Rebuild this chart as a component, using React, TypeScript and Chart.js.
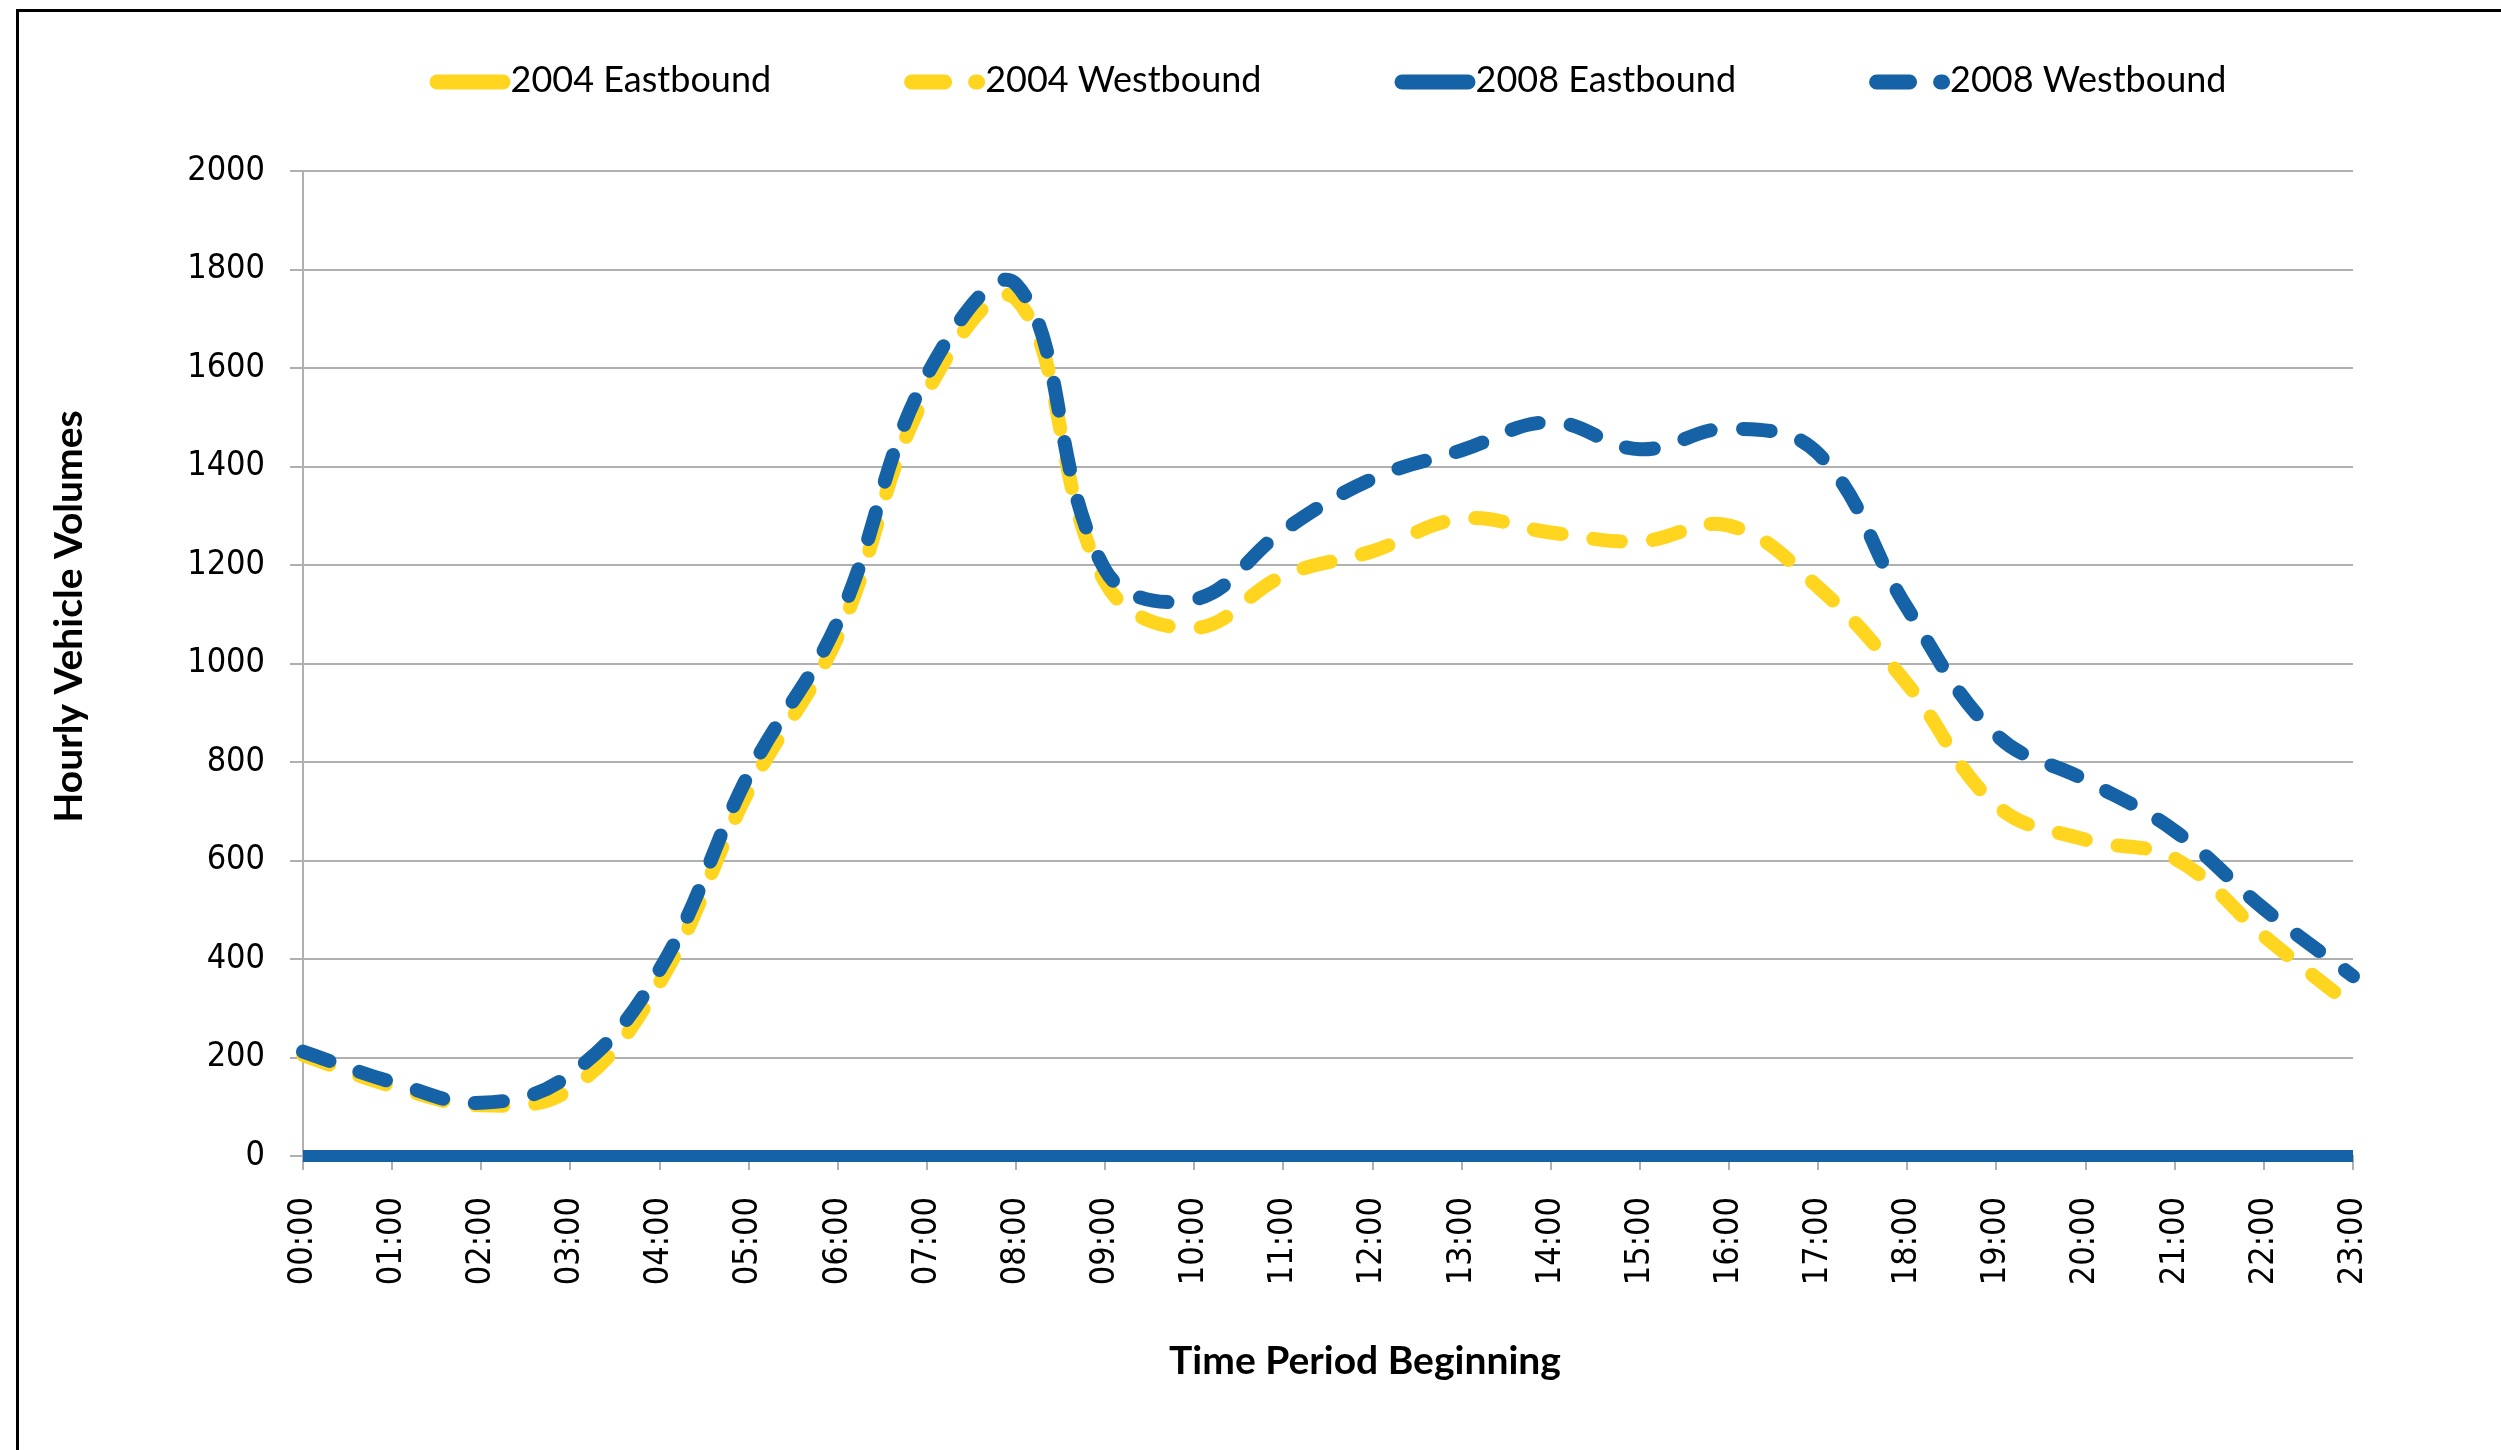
import React, { useEffect, useRef } from "react";
import { Chart, registerables } from "chart.js";

Chart.register(...registerables);

const hours = [
  "00:00", "01:00", "02:00", "03:00", "04:00", "05:00", "06:00", "07:00",
  "08:00", "09:00", "10:00", "11:00", "12:00", "13:00", "14:00", "15:00",
  "16:00", "17:00", "18:00", "19:00", "20:00", "21:00", "22:00", "23:00",
];

const seriesNames = ["2004 Eastbound", "2004 Westbound", "2008 Eastbound", "2008 Westbound"];

const eastbound2004 = [0, 0, 0, 0, 0, 0, 0, 0, 0, 0, 0, 0, 0, 0, 0, 0, 0, 0, 0, 0, 0, 0, 0, 0];
const westbound2004 = [205, 142, 103, 136, 352, 742, 1055, 1550, 1740, 1165, 1072, 1178, 1228, 1294, 1266, 1248, 1280, 1155, 958, 712, 642, 604, 447, 303];
const eastbound2008 = [0, 0, 0, 0, 0, 0, 0, 0, 0, 0, 0, 0, 0, 0, 0, 0, 0, 0, 0, 0, 0, 0, 0, 0];
const westbound2008 = [212, 150, 108, 166, 378, 775, 1085, 1585, 1770, 1190, 1130, 1270, 1375, 1433, 1490, 1435, 1477, 1426, 1112, 855, 763, 660, 502, 365];

const yTickLabels = ["0", "200", "400", "600", "800", "1000", "1200", "1400", "1600", "1800", "2000"];

const xTitle = "Time Period Beginning";
const yTitle = "Hourly Vehicle Volumes";

const YELLOW = "#FFD520";
const BLUE = "#1563A6";
const GRID = "#b0b0b0";
const TICK_FONT = "'DejaVu Sans Condensed', 'DejaVu Sans', sans-serif";
const TEXT_FONT = "Lato, 'Open Sans', sans-serif";

const overlayPlugin = {
  id: "overlay",
  afterDraw(chart: any) {
    const ctx = chart.ctx as CanvasRenderingContext2D;
    const area = chart.chartArea;
    ctx.save();
    // legend
    ctx.font = `36px ${TEXT_FONT}`;
    ctx.textBaseline = "middle";
    ctx.textAlign = "left";
    const datasets = chart.data.datasets;
    const widths = datasets.map((d: any) => ctx.measureText(d.label).width);
    const sampleW = 81;
    const gap = 133;
    const total = widths.reduce((a: number, b: number) => a + b, 0) + sampleW * datasets.length + gap * (datasets.length - 1);
    let x = (area.left + area.right) / 2 - total / 2;
    const ly = 82;
    datasets.forEach((d: any, i: number) => {
      ctx.strokeStyle = d.borderColor;
      ctx.lineWidth = 15;
      ctx.lineCap = "round";
      ctx.setLineDash(d.borderDash && d.borderDash.length ? [33, 31] : []);
      ctx.beginPath();
      ctx.moveTo(x + 7.5, ly);
      ctx.lineTo(x + sampleW - 7.5, ly);
      ctx.stroke();
      ctx.setLineDash([]);
      ctx.fillStyle = "#000";
      ctx.fillText(d.label, x + sampleW, 80);
      x += sampleW + widths[i] + gap;
    });
    // axis titles
    ctx.font = `bold 39px ${TEXT_FONT}`;
    ctx.textAlign = "center";
    ctx.textBaseline = "middle";
    ctx.fillStyle = "#000";
    ctx.fillText(xTitle, (area.left + area.right) / 2 + 37, area.bottom + 205);
    ctx.translate(69, (area.top + area.bottom) / 2 - 47);
    ctx.rotate(-Math.PI / 2);
    ctx.fillText(yTitle, 0, 0);
    ctx.restore();
  },
};

export default function App() {
  const canvasRef = useRef<HTMLCanvasElement | null>(null);

  useEffect(() => {
    const canvas = canvasRef.current;
    if (!canvas) return;
    const dashed = {
      borderWidth: 14,
      borderDash: [28, 32],
      borderCapStyle: "round" as const,
      borderJoinStyle: "round" as const,
      pointRadius: 0,
      tension: 0.4,
      fill: false,
      clip: false as const,
    };
    const solid = {
      borderWidth: 12,
      borderCapStyle: "butt" as const,
      pointRadius: 0,
      tension: 0.4,
      fill: false,
      clip: false as const,
    };
    const chart = new Chart(canvas, {
      type: "line",
      data: {
        labels: hours,
        datasets: [
          { ...solid, label: seriesNames[0], data: eastbound2004, borderColor: YELLOW, backgroundColor: YELLOW, order: 4 },
          { ...dashed, label: seriesNames[1], data: westbound2004, borderColor: YELLOW, backgroundColor: YELLOW, order: 3 },
          { ...solid, label: seriesNames[2], data: eastbound2008, borderColor: BLUE, backgroundColor: BLUE, order: 2 },
          { ...dashed, label: seriesNames[3], data: westbound2008, borderColor: BLUE, backgroundColor: BLUE, order: 1 },
        ],
      },
      options: {
        responsive: false,
        animation: false,
        devicePixelRatio: 1,
        layout: { padding: { left: 0, top: 171, right: 148, bottom: 0 } },
        plugins: {
          legend: { display: false },
          tooltip: { enabled: false },
          title: { display: false },
        },
        scales: {
          x: {
            type: "category",
            offset: false,
            grid: { drawOnChartArea: false, drawTicks: true, tickLength: 14, color: GRID, lineWidth: 2 },
            border: { display: true, color: GRID, width: 2 },
            ticks: {
              autoSkip: false,
              maxRotation: 90,
              minRotation: 90,
              padding: 27,
              color: "#000",
              font: { family: TICK_FONT, size: 34 },
            },
            afterFit: (scale: any) => {
              scale.height = 294;
            },
          },
          y: {
            min: 0,
            max: 2000,
            grid: { drawOnChartArea: true, drawTicks: true, tickLength: 13, color: GRID, lineWidth: 2 },
            border: { display: true, color: GRID, width: 2 },
            ticks: {
              stepSize: 200,
              padding: 25,
              color: "#000",
              font: { family: TICK_FONT, size: 34 },
              callback: (_v: any, i: number) => yTickLabels[i],
            },
            afterFit: (scale: any) => {
              scale.width = 303;
            },
          },
        },
      },
      plugins: [overlayPlugin],
    });
    return () => chart.destroy();
  }, []);

  return (
    <div style={{ position: "absolute", left: 0, top: 0, width: 2501, height: 1450, overflow: "hidden", background: "#fff" }}>
      <div style={{ position: "absolute", left: 16, top: 9, width: 2700, height: 1700, borderTop: "3px solid #000", borderLeft: "3px solid #000" }} />
      <canvas ref={canvasRef} width={2501} height={1450} style={{ position: "absolute", left: 0, top: 0, width: 2501, height: 1450, display: "block" }} />
    </div>
  );
}
